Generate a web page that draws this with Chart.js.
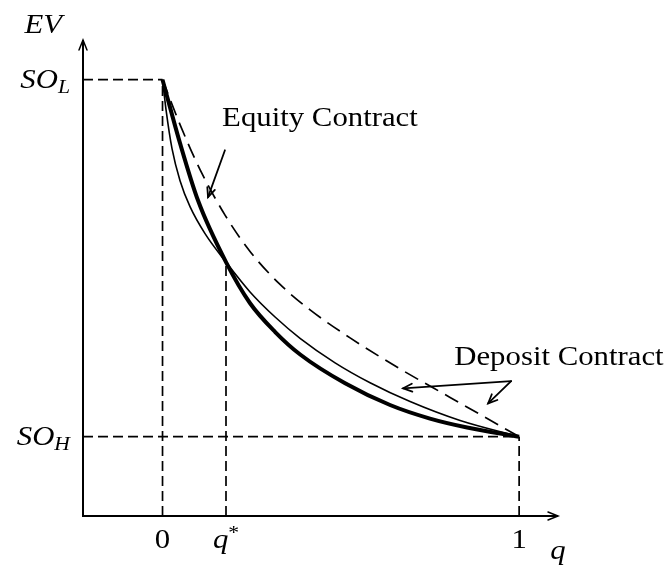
<!DOCTYPE html>
<html>
<head>
<meta charset="utf-8">
<script src="https://cdn.jsdelivr.net/npm/chart.js@4.4.1/dist/chart.umd.min.js"></script>
<style>
  html, body { margin: 0; padding: 0; background: #fff; }
</style>
</head>
<body>
<canvas id="myChart" width="669" height="569"></canvas>
<script>
'use strict';

// DATA

let qStar = 0.178;
let soHigh = 1;
let soLow = 5.5;

let xTickValues = [0, qStar, 1];
let xTickLabels = ['0', 'q*', '1'];
let yTickValues = [soHigh, soLow];
let yTickLabels = ['SO_H', 'SO_L'];

// thick curve (equity contract)
let equityQ = [0, 0.049, 0.0996, 0.178, 0.245, 0.316, 0.386, 0.512, 0.638, 0.750, 0.854, 1];
let equityEV = [5.5, 4.70, 3.976, 3.20, 2.685, 2.319, 2.036, 1.673, 1.399, 1.228, 1.116, 1];

// thin curve (deposit contract)
let depositQ = [0, 0.0098, 0.0266, 0.0491, 0.0771, 0.1192, 0.178, 0.2454, 0.3156, 0.3857, 0.4839, 0.5820, 0.6942, 0.8345, 1];
let depositEV = [5.5, 5.122, 4.630, 4.227, 3.899, 3.559, 3.20, 2.824, 2.508, 2.240, 1.931, 1.680, 1.443, 1.204, 1];

// dashed curve (deposit contract)
let dashedQ = [0, 0.0491, 0.1052, 0.1753, 0.2454, 0.3296, 0.4138, 0.5260, 0.6662, 0.8065, 1];
let dashedEV = [5.5, 4.934, 4.367, 3.793, 3.335, 2.919, 2.598, 2.245, 1.854, 1.495, 1];

let xMin = -0.223;
let xMax = 1.109;
let yMin = 0;
let yMax = 6;

// HELPERS

function toPoints(xs, ys) {
  let pts = [];
  for (let i = 0; i < xs.length; i++) {
    pts.push({ x: xs[i], y: ys[i] });
  }
  return pts;
}

function curve(points, width, dash) {
  return {
    data: points,
    showLine: true,
    borderColor: '#000',
    borderWidth: width,
    borderDash: dash,
    pointRadius: 0,
    cubicInterpolationMode: 'monotone',
    clip: false
  };
}

function guide(points) {
  return {
    data: points,
    showLine: true,
    borderColor: '#000',
    borderWidth: 1.7,
    borderDash: [10, 5],
    pointRadius: 0,
    tension: 0,
    clip: false,
    order: 5
  };
}

let serif = '"Liberation Serif", "Times New Roman", serif';
let stretch = 1.14;

// draws a run list like [{t, italic, size, dy}] starting at x
function drawRuns(ctx, runs, x, y, align) {
  let total = 0;
  for (let r of runs) {
    ctx.font = (r.italic ? 'italic ' : '') + r.size + 'px ' + serif;
    r.w = ctx.measureText(r.t).width * stretch;
    total += r.w;
  }
  let left = x;
  if (align === 'right') left = x - total;
  if (align === 'center') left = x - total / 2;
  for (let r of runs) {
    ctx.save();
    ctx.font = (r.italic ? 'italic ' : '') + r.size + 'px ' + serif;
    ctx.textAlign = 'left';
    ctx.textBaseline = 'alphabetic';
    ctx.translate(left, y + (r.dy || 0));
    ctx.scale(stretch, 1);
    ctx.fillText(r.t, 0, 0);
    ctx.restore();
    left += r.w;
  }
}

// turn 'SO_H' or 'q*' into runs
function mathRuns(label) {
  let isItalic = !/^[0-9]+$/.test(label.replace('*', ''));
  if (label.includes('_')) {
    let parts = label.split('_');
    return [
      { t: parts[0], italic: true, size: 27 },
      { t: parts[1], italic: true, size: 19, dy: 5 }
    ];
  }
  if (label.endsWith('*')) {
    return [
      { t: label.slice(0, -1), italic: isItalic, size: 27 },
      { t: '*', italic: false, size: 19, dy: -9 }
    ];
  }
  return [{ t: label, italic: isItalic, size: 27 }];
}

function arrowHead(ctx, fx, fy, tx, ty, len, half) {
  let a = Math.atan2(ty - fy, tx - fx);
  let s = Math.atan2(half, len);
  let l = Math.hypot(len, half);
  ctx.beginPath();
  ctx.moveTo(tx - l * Math.cos(a - s), ty - l * Math.sin(a - s));
  ctx.lineTo(tx, ty);
  ctx.lineTo(tx - l * Math.cos(a + s), ty - l * Math.sin(a + s));
  ctx.stroke();
}

// annotation arrows and labels, placed in data units
let notes = [
  { text: 'Equity Contract', at: [0.167, 4.92], from: [0.175, 4.61], to: [[0.1276, 4.02]] },
  { text: 'Deposit Contract', at: [0.818, 1.90], from: [0.9776, 1.70], to: [[0.6746, 1.61], [0.913, 1.42]] }
];

let diagramPlugin = {
  id: 'diagram',
  beforeDatasetsDraw(chart) {
    let ctx = chart.ctx;
    let xs = chart.scales.x;
    let ys = chart.scales.y;
    let ox = xs.getPixelForValue(xMin);
    let oy = ys.getPixelForValue(yMin);
    let ex = xs.getPixelForValue(xMax);
    let ey = ys.getPixelForValue(yMax);
    ctx.save();
    ctx.strokeStyle = '#000';
    ctx.lineWidth = 2;
    ctx.lineCap = 'butt';
    ctx.beginPath();
    ctx.moveTo(ox, ey);
    ctx.lineTo(ox, oy);
    ctx.lineTo(ex, oy);
    ctx.stroke();
    ctx.lineWidth = 1.5;
    ctx.lineCap = 'round';
    arrowHead(ctx, ox, oy, ox, ey, 10, 4);
    arrowHead(ctx, ox, oy, ex, oy, 10, 4);
    ctx.restore();
  },
  afterDatasetsDraw(chart) {
    let ctx = chart.ctx;
    let xs = chart.scales.x;
    let ys = chart.scales.y;
    let ox = xs.getPixelForValue(xMin);
    let oy = ys.getPixelForValue(yMin);
    ctx.save();
    ctx.fillStyle = '#000';
    ctx.strokeStyle = '#000';

    // tick labels
    for (let i = 0; i < xTickValues.length; i++) {
      drawRuns(ctx, mathRuns(xTickLabels[i]), xs.getPixelForValue(xTickValues[i]), oy + 32, 'center');
    }
    for (let i = 0; i < yTickValues.length; i++) {
      drawRuns(ctx, mathRuns(yTickLabels[i]), ox - 13, ys.getPixelForValue(yTickValues[i]) + 8, 'right');
    }

    // axis names
    drawRuns(ctx, [{ t: 'EV', italic: true, size: 27 }], ox - 21, ys.getPixelForValue(yMax) - 7, 'right');
    drawRuns(ctx, [{ t: 'q', italic: true, size: 27 }], xs.getPixelForValue(xMax), oy + 43, 'center');

    // notes
    ctx.lineWidth = 1.8;
    ctx.lineCap = 'round';
    for (let n of notes) {
      drawRuns(ctx, [{ t: n.text, italic: false, size: 27 }], xs.getPixelForValue(n.at[0]), ys.getPixelForValue(n.at[1]), 'left');
      let fx = xs.getPixelForValue(n.from[0]);
      let fy = ys.getPixelForValue(n.from[1]);
      for (let t of n.to) {
        let tx = xs.getPixelForValue(t[0]);
        let ty = ys.getPixelForValue(t[1]);
        ctx.beginPath();
        ctx.moveTo(fx, fy);
        ctx.lineTo(tx, ty);
        ctx.stroke();
        arrowHead(ctx, fx, fy, tx, ty, 9, 4);
      }
    }
    ctx.restore();
  }
};

// CHART

let data = {
  datasets: [
    curve(toPoints(equityQ, equityEV), 4, []),
    curve(toPoints(depositQ, depositEV), 1.6, []),
    curve(toPoints(dashedQ, dashedEV), 1.7, [15, 8]),
    guide(toPoints([xMin, 0], [soLow, soLow])),
    guide(toPoints([xMin, 1], [soHigh, soHigh])),
    guide(toPoints([0, 0], [yMin, soLow])),
    guide(toPoints([qStar, qStar], [yMin, 3.2])),
    guide(toPoints([1, 1], [yMin, soHigh]))
  ]
};

let config = {
  type: 'scatter',
  data: data,
  options: {
    responsive: false,
    animation: false,
    events: [],
    layout: { padding: { left: 83, right: 111, top: 40, bottom: 53 } },
    plugins: {
      legend: { display: false },
      tooltip: { enabled: false }
    },
    scales: {
      x: { type: 'linear', min: xMin, max: xMax, display: false },
      y: { type: 'linear', min: yMin, max: yMax, display: false }
    }
  },
  plugins: [diagramPlugin]
};

new Chart(document.getElementById('myChart').getContext('2d'), config);
</script>
</body>
</html>
